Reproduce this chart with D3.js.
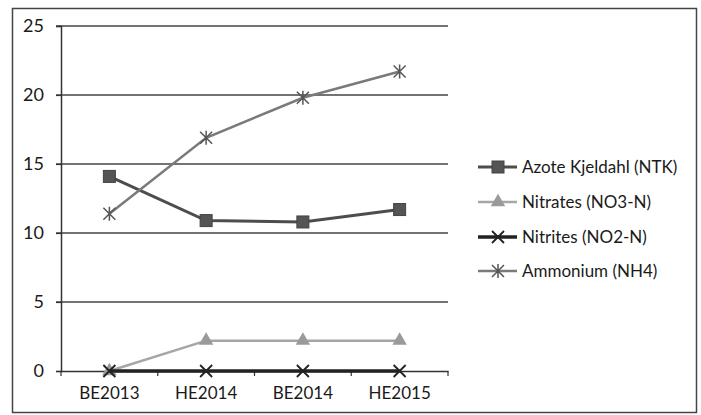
<!DOCTYPE html>
<html>
<head>
<meta charset="utf-8">
<script src="https://cdn.jsdelivr.net/npm/d3@7"></script>
<style>
  body { margin: 0; background: #fff; }
  text { font-family: Lato, "Open Sans", sans-serif; fill: #1a1a1a; }
</style>
</head>
<body>
<svg id="chart" width="701" height="415"></svg>
<script>
let svg = d3.select("#chart")

let categories = ["BE2013", "HE2014", "BE2014", "HE2015"]
let seriesNames = ["Azote Kjeldahl (NTK)", "Nitrates (NO3-N)", "Nitrites (NO2-N)", "Ammonium (NH4)"]
let ntk = [14.1, 10.9, 10.8, 11.7]
let nitrates = [0, 2.2, 2.2, 2.2]
let nitrites = [0, 0, 0, 0]
let ammonium = [11.4, 16.9, 19.8, 21.7]
let yTicks = [0, 5, 10, 15, 20, 25]

let series = [
  { name: seriesNames[0], values: ntk, color: "#4d4d4d", width: 3, marker: "square" },
  { name: seriesNames[1], values: nitrates, color: "#a6a6a6", width: 2.5, marker: "triangle" },
  { name: seriesNames[2], values: nitrites, color: "#222", width: 3.5, marker: "x" },
  { name: seriesNames[3], values: ammonium, color: "#7a7a7a", width: 2.5, marker: "star" }
]

let margin = { top: 26, left: 61, right: 448, bottom: 371 }

let x = d3.scaleBand()
  .domain(categories)
  .range([margin.left, margin.right])

let y = d3.scaleLinear()
  .domain([0, 25])
  .range([margin.bottom, margin.top])

// outer frame
svg.append("rect")
  .attr("x", 12.5).attr("y", 8.5)
  .attr("width", 684).attr("height", 404)
  .attr("fill", "none")
  .attr("stroke", "#444")
  .attr("stroke-width", 1.5)

// gridlines
svg.append("g")
  .selectAll("line")
  .data(yTicks.filter(d => d > 0))
  .join("line")
  .attr("x1", margin.left - 5).attr("x2", margin.right)
  .attr("y1", d => y(d)).attr("y2", d => y(d))
  .attr("stroke", "#444")
  .attr("stroke-width", 1.3)

// y axis
let yAxis = d3.axisLeft(y)
  .tickValues(yTicks)
  .tickSize(5)
  .tickPadding(12)

svg.append("g")
  .attr("transform", `translate(${margin.left},0)`)
  .call(yAxis)
  .call(g => g.select(".domain").attr("stroke", "#333").attr("stroke-width", 1.5))
  .call(g => g.selectAll(".tick line").attr("stroke", "#333").attr("stroke-width", 1.2))
  .call(g => g.selectAll("text").style("font-size", "18px").attr("fill", "#1a1a1a"))

// x axis
let xAxis = d3.axisBottom(x)
  .tickSize(0)
  .tickPadding(16)

svg.append("g")
  .attr("transform", `translate(0,${margin.bottom})`)
  .call(xAxis)
  .call(g => g.select(".domain").attr("stroke", "#333").attr("stroke-width", 1.5))
  .call(g => g.selectAll("text").style("font-size", "17px").attr("fill", "#1a1a1a"))

// category boundary ticks
svg.append("g")
  .selectAll("line")
  .data(categories.concat(["end"]))
  .join("line")
  .attr("x1", (d, i) => i < categories.length ? x(d) : x.range()[1])
  .attr("x2", (d, i) => i < categories.length ? x(d) : x.range()[1])
  .attr("y1", margin.bottom).attr("y2", margin.bottom + 5)
  .attr("stroke", "#333")
  .attr("stroke-width", 1.2)

let cx = c => x(c) + x.bandwidth() / 2

function drawMarker(g, type, color) {
  if (type == "square") {
    g.append("rect").attr("x", -6).attr("y", -6).attr("width", 12).attr("height", 12)
      .attr("fill", "#555").attr("stroke", "#444").attr("stroke-width", 1)
  } else if (type == "triangle") {
    g.append("path").attr("d", d3.symbol(d3.symbolTriangle, 90)())
      .attr("fill", "#9a9a9a")
  } else if (type == "x") {
    g.append("path").attr("d", "M-6,-6L6,6M-6,6L6,-6")
      .attr("stroke", color).attr("stroke-width", 1.8).attr("fill", "none")
  } else {
    g.append("path").attr("d", "M-6,-6L6,6M-6,6L6,-6M0,-7L0,7")
      .attr("stroke", "#555").attr("stroke-width", 1.5).attr("fill", "none")
  }
}

let line = d3.line()
  .x((d, i) => cx(categories[i]))
  .y(d => y(d))

series.forEach(s => {
  svg.append("path")
    .datum(s.values)
    .attr("fill", "none")
    .attr("stroke", s.color)
    .attr("stroke-width", s.width)
    .attr("d", line)

  s.values.forEach((v, i) => {
    let g = svg.append("g").attr("transform", `translate(${cx(categories[i])},${y(v)})`)
    drawMarker(g, s.marker, s.color)
  })
})

// legend
let legendY = [167, 202, 237, 271]
series.forEach((s, i) => {
  let g = svg.append("g").attr("transform", `translate(478,${legendY[i]})`)
  g.append("line")
    .attr("x1", 0).attr("x2", 39)
    .attr("stroke", s.color).attr("stroke-width", s.width)
  let m = g.append("g").attr("transform", "translate(20,0)")
  drawMarker(m, s.marker, s.color)
  g.append("text")
    .attr("x", 44).attr("y", 6)
    .style("font-size", "17px")
    .text(s.name)
})
</script>
</body>
</html>
